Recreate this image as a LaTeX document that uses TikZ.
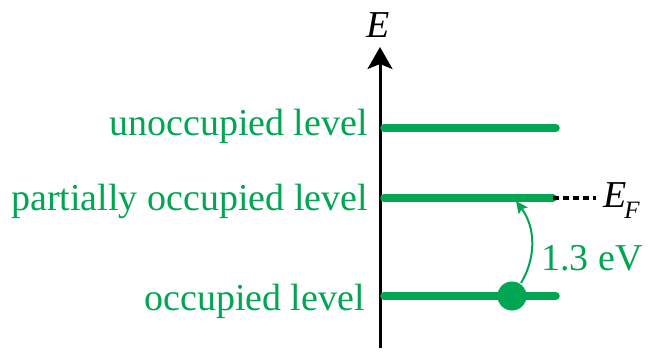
\documentclass[tikz,border=0pt]{standalone}
\usepackage{fontspec}
\setmainfont{Liberation Serif}
\usetikzlibrary{arrows.meta}
\definecolor{lvlgreen}{HTML}{00A651}
\begin{document}
\begin{tikzpicture}[x=1pt,y=-1pt,
  lvl/.style={line width=7.5pt,lvlgreen,line cap=round},
  lbl/.style={anchor=base east,inner sep=0pt,text=lvlgreen,font=\fontsize{38}{44}\selectfont},
  axisline/.style={line width=3pt,-{Stealth[length=22pt,width=25pt,inset=5pt]}},
]
\useasboundingbox (0,0) rectangle (649,354);
% axis
\coordinate (ax0) at (380,348);
\coordinate (ax1) at (380,47);
\draw[axisline] (ax0) -- (ax1);
\node[anchor=base,inner sep=0pt,font=\fontsize{38}{44}\selectfont\itshape] (E) at (378,37) {E};
% levels
\coordinate (u0) at (384,128); \coordinate (u1) at (556,128);
\coordinate (p0) at (384,198); \coordinate (p1) at (553,198);
\coordinate (o0) at (384,296); \coordinate (o1) at (556,296);
\draw[lvl] (u0) -- (u1);
\draw[lvl] (p0) -- (p1);
\draw[lvl] (o0) -- (o1);
\coordinate (d1) at (596,198);
\draw[line width=3.5pt,dash pattern=on 6pt off 4pt] (p1) -- (d1);
% labels
\node[lbl] (ul) at (368,135) {unoccupied level};
\node[lbl] (pl) at (368,210) {partially occupied level};
\node[lbl] (ol) at (365,310) {occupied level};
\node[anchor=base west,inner sep=0pt,font=\fontsize{38}{44}\selectfont\itshape] (EF) at (603,207) {E\kern-2pt\raisebox{-11pt}{\fontsize{25}{30}\selectfont F}};
% electron
\node[circle,fill=lvlgreen,minimum size=29pt,inner sep=0pt] (dot) at (512,296) {};
\coordinate (tip) at (516,201);
\draw[lvlgreen,line width=2pt,-{Stealth[length=12pt,width=11pt,inset=2pt]}] (521,283) .. controls (536,258) and (536,228) .. (tip);
\node[anchor=base west,inner sep=0pt,text=lvlgreen,font=\fontsize{38}{44}\selectfont] (ev) at (541,270) {1.3 eV};
\end{tikzpicture}
\end{document}
